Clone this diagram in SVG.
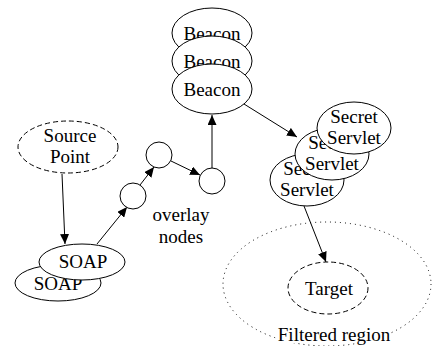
<svg xmlns="http://www.w3.org/2000/svg" width="432" height="346" viewBox="0 0 432 346">
<style>
text{font-family:"Liberation Serif","Times New Roman",serif;font-size:19px;fill:#000;text-anchor:middle}
.n{fill:#fff;stroke:#000;stroke-width:1}
.d{fill:#fff;stroke:#000;stroke-width:1;stroke-dasharray:5,3}
.e{stroke:#000;stroke-width:1;fill:none}
</style>
<defs>
<marker id="ah" markerUnits="userSpaceOnUse" markerWidth="10" markerHeight="9" refX="10" refY="4.5" orient="auto">
<path d="M0,0 L10,4.5 L0,9 z" fill="#000"/>
</marker>
</defs>
<g id="filtered-region">
<ellipse cx="327" cy="284" rx="104" ry="62" fill="none" stroke="#000" stroke-width="1" stroke-dasharray="1,4"/>
<text x="334" y="341" stroke="#fff" stroke-width="4" paint-order="stroke">Filtered region</text>
</g>
<g id="connectors">
<line class="e" x1="62" y1="174" x2="65" y2="244" marker-end="url(#ah)"/>
<line class="e" x1="97" y1="244" x2="127" y2="207" marker-end="url(#ah)"/>
<line class="e" x1="140" y1="185" x2="154" y2="167" marker-end="url(#ah)"/>
<line class="e" x1="171" y1="161" x2="200" y2="175" marker-end="url(#ah)"/>
<line class="e" x1="212" y1="168" x2="212" y2="115" marker-end="url(#ah)"/>
<line class="e" x1="244" y1="104" x2="297" y2="137" marker-end="url(#ah)"/>
<line class="e" x1="304" y1="206" x2="326" y2="262" marker-end="url(#ah)"/>
</g>
<g id="source-point">
<ellipse class="d" cx="68" cy="147" rx="50" ry="26"/>
<text x="70" y="142">Source</text>
<text x="70" y="163">Point</text>
</g>
<g id="soap-2">
<ellipse class="n" cx="58" cy="283" rx="43" ry="18"/>
<text x="58" y="290">SOAP</text>
</g>
<g id="soap-1">
<ellipse class="n" cx="82" cy="262" rx="43" ry="18"/>
<text x="83" y="268">SOAP</text>
</g>
<g id="overlay-1"><circle class="n" cx="133" cy="196" r="13"/></g>
<g id="overlay-2"><circle class="n" cx="159" cy="155" r="13"/></g>
<g id="overlay-3"><circle class="n" cx="212" cy="181" r="13"/></g>
<g id="overlay-label">
<text x="181" y="221">overlay</text>
<text x="181" y="243">nodes</text>
</g>
<g id="beacon-1">
<ellipse class="n" cx="212" cy="33" rx="40" ry="25"/>
<text x="212" y="40">Beacon</text>
</g>
<g id="beacon-2">
<ellipse class="n" cx="212" cy="61" rx="40" ry="25"/>
<text x="212" y="68">Beacon</text>
</g>
<g id="beacon-3">
<ellipse class="n" cx="212" cy="89" rx="40" ry="25"/>
<text x="212" y="96">Beacon</text>
</g>
<g id="servlet-3">
<ellipse class="n" cx="307" cy="180" rx="37" ry="26"/>
<text x="307" y="175">Secret</text>
<text x="307" y="196">Servlet</text>
</g>
<g id="servlet-2">
<ellipse class="n" cx="332" cy="154" rx="37" ry="26"/>
<text x="332" y="149">Secret</text>
<text x="332" y="170">Servlet</text>
</g>
<g id="servlet-1">
<ellipse class="n" cx="354" cy="128" rx="37" ry="26"/>
<text x="354" y="123">Secret</text>
<text x="354" y="144">Servlet</text>
</g>
<g id="target">
<ellipse class="d" cx="328" cy="288" rx="40" ry="26"/>
<text x="329" y="295">Target</text>
</g>
</svg>
